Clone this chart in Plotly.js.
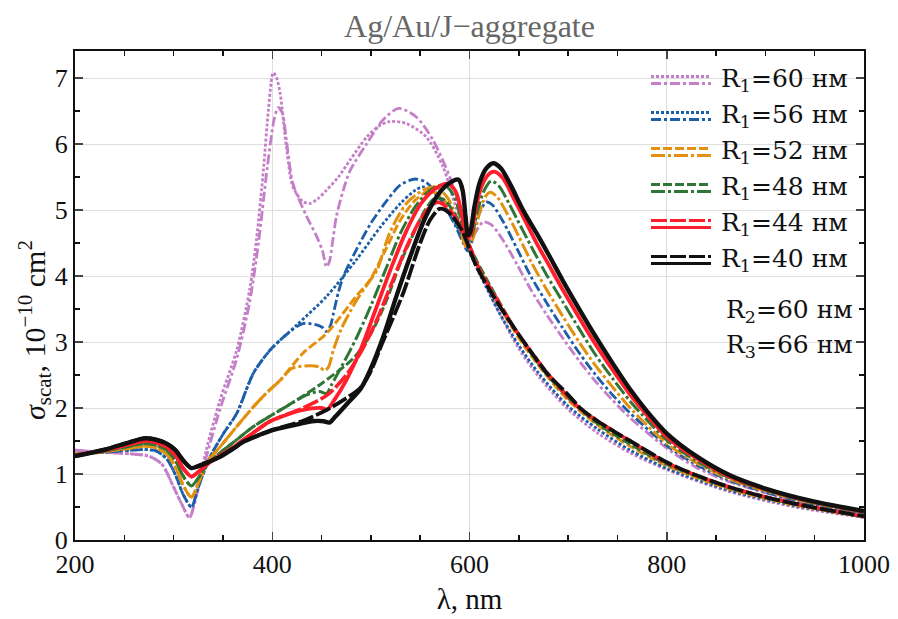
<!DOCTYPE html>
<html><head><meta charset="utf-8">
<script src="https://cdn.plot.ly/plotly-3.0.1.min.js"></script>
<style>html,body{margin:0;padding:0;background:#fff}#chart{width:898px;height:619px}</style>
</head><body><div id="chart"></div>
<script>
// ---------------- DATA ----------------
const radii = [60, 56, 52, 48, 44, 40];
const colors = ['#c57fc8', '#1d5ea8', '#e3900e', '#2f7636', '#ff1e2c', '#111111'];
const xTicks = [200, 400, 600, 800, 1000];
const yTicks = [0, 1, 2, 3, 4, 5, 6, 7];

// R1 = 60 nm
const x60a = [200,220,240,260,275,288,300,309,316,324,333,347,364,377,384,391,396,401,404,408,414,421,431,438,446,455,467,479,496,508,519,536,556,573,585,598,612,630,650,670,700,730,763,801,864,930,1000];
const y60a = [1.36,1.34,1.32,1.3,1.27,1.15,0.8,0.52,0.34,0.75,1.36,2.12,2.88,3.79,4.55,5.6,6.5,7.08,7.02,6.77,6.0,5.35,5.13,5.1,5.17,5.3,5.5,5.76,6.11,6.27,6.34,6.31,6.11,5.66,5.1,4.55,4.02,3.45,2.9,2.48,1.98,1.62,1.32,1.06,0.73,0.5,0.34];
const x60b = [200,220,240,260,275,288,300,309,316,324,333,347,364,377,386,395,402,406,410,414,421,435,445,451,455,458,461,465,472,479,496,512,528,546,563,580,590,595,599,606,614,622,635,648,662,678,695,712,728,745,763,801,830,864,930,1000];
const y60b = [1.36,1.34,1.32,1.3,1.27,1.15,0.8,0.52,0.34,0.72,1.25,1.98,2.75,3.6,4.5,5.65,6.38,6.55,6.48,6.1,5.4,4.9,4.6,4.38,4.14,4.22,4.5,4.9,5.3,5.6,6.01,6.36,6.54,6.41,6.06,5.5,5.05,4.78,4.52,4.66,4.82,4.78,4.52,4.18,3.8,3.42,3.05,2.7,2.4,2.12,1.85,1.38,1.1,0.88,0.6,0.41];

// R1 = 56 nm
const x56a = [200,230,255,270,282,293,302,310,318,325,337,350,364,381,398,425,455,485,510,530,545,553,565,580,598,612,630,650,670,700,730,763,801,864,930,1000];
const y56a = [1.3,1.33,1.36,1.37,1.35,1.23,0.98,0.68,0.5,0.8,1.26,1.6,1.92,2.53,2.88,3.26,3.69,4.24,4.75,5.1,5.3,5.35,5.25,4.95,4.42,3.98,3.45,2.95,2.53,2.03,1.68,1.36,1.08,0.75,0.52,0.35];
const x56b = [200,230,255,270,282,293,302,310,318,325,337,350,364,381,398,415,431,445,451,455,459,462,467,472,485,500,515,530,545,556,570,585,593,598,603,610,617,623,635,648,662,678,695,712,728,745,763,801,830,864,930,1000];
const y56b = [1.3,1.33,1.36,1.37,1.35,1.23,0.98,0.68,0.5,0.8,1.26,1.6,1.92,2.53,2.88,3.12,3.28,3.26,3.22,3.16,3.25,3.43,3.75,3.99,4.39,4.8,5.12,5.38,5.47,5.42,5.18,4.78,4.52,4.38,4.55,4.95,5.12,5.08,4.8,4.42,4.0,3.6,3.2,2.82,2.5,2.2,1.92,1.42,1.14,0.9,0.6,0.41];

// R1 = 52 nm
const x52a = [200,230,255,270,282,293,302,310,318,325,335,347,364,381,395,408,431,455,485,499,515,530,545,558,570,585,600,615,635,655,675,700,730,763,801,864,930,1000];
const y52a = [1.3,1.34,1.39,1.42,1.4,1.3,1.1,0.82,0.65,0.86,1.2,1.41,1.72,2.02,2.24,2.42,2.83,3.13,3.69,3.94,4.4,4.85,5.15,5.28,5.22,4.9,4.42,3.98,3.42,2.95,2.55,2.12,1.74,1.42,1.12,0.77,0.53,0.35];
const x52b = [200,230,255,270,282,293,302,310,318,325,335,347,364,381,395,408,420,438,448,453,457,462,470,485,500,506,519,536,553,566,578,588,597,603,610,616,621,628,638,650,663,678,695,712,728,745,763,801,830,864,930,1000];
const y52b = [1.3,1.34,1.39,1.42,1.4,1.3,1.1,0.82,0.65,0.86,1.2,1.41,1.72,2.02,2.24,2.42,2.6,2.64,2.62,2.57,2.62,2.88,3.2,3.62,3.95,4.08,4.65,5.1,5.3,5.35,5.18,4.85,4.43,4.55,4.95,5.2,5.27,5.2,4.95,4.6,4.2,3.8,3.38,2.98,2.64,2.32,2.0,1.45,1.17,0.92,0.62,0.42];

// R1 = 48 nm
const x48a = [200,230,255,270,282,293,302,310,318,325,335,347,364,381,398,414,448,482,499,515,530,545,555,565,575,590,605,620,640,660,680,705,730,763,801,864,930,1000];
const y48a = [1.29,1.35,1.42,1.46,1.44,1.36,1.2,0.96,0.82,0.94,1.16,1.32,1.52,1.72,1.88,2.02,2.35,2.75,3.1,3.6,4.2,4.7,5.0,5.18,5.15,4.8,4.3,3.88,3.35,2.88,2.48,2.08,1.76,1.45,1.14,0.79,0.54,0.35];
const x48b = [200,230,255,270,282,293,302,310,318,325,335,347,364,381,398,414,435,448,455,460,470,485,500,515,530,545,560,574,584,591,597,602,608,615,622,630,640,652,665,678,695,712,728,745,763,780,801,830,864,930,1000];
const y48b = [1.29,1.35,1.42,1.46,1.44,1.36,1.2,0.96,0.82,0.94,1.16,1.32,1.52,1.72,1.88,2.02,2.2,2.25,2.22,2.35,2.62,3.05,3.55,4.1,4.65,5.05,5.3,5.38,5.22,4.88,4.52,4.6,4.98,5.3,5.44,5.36,5.1,4.75,4.38,4.02,3.6,3.18,2.8,2.45,2.1,1.82,1.5,1.2,0.94,0.63,0.42];

// R1 = 44 nm
const x44a = [200,230,255,270,282,293,302,310,318,325,335,347,360,371,385,398,431,456,475,490,505,520,535,550,560,568,580,595,610,625,645,665,685,713,746,763,801,864,930,1000];
const y44a = [1.28,1.36,1.45,1.5,1.48,1.41,1.28,1.08,0.96,1.03,1.16,1.28,1.4,1.52,1.67,1.8,2.0,2.2,2.5,2.85,3.3,3.85,4.4,4.85,5.05,5.12,5.0,4.62,4.1,3.72,3.22,2.8,2.42,1.98,1.65,1.5,1.16,0.8,0.55,0.36];
const x44b = [200,230,255,270,282,293,302,310,318,325,335,347,360,371,385,398,431,450,456,462,475,490,505,520,535,550,565,578,586,592,597,601,606,612,620,626,634,644,656,668,680,695,712,728,745,763,780,801,830,864,930,1000];
const y44b = [1.28,1.36,1.45,1.5,1.48,1.41,1.28,1.08,0.96,1.03,1.16,1.28,1.4,1.52,1.67,1.8,1.97,2.0,1.98,2.1,2.42,2.9,3.5,4.1,4.65,5.08,5.32,5.4,5.28,4.95,4.57,4.62,5.0,5.35,5.55,5.58,5.48,5.2,4.85,4.5,4.18,3.78,3.35,2.96,2.58,2.2,1.89,1.55,1.24,0.96,0.64,0.43];

// R1 = 40 nm
const x40a = [200,230,255,270,282,293,302,310,318,325,335,347,360,371,385,401,430,455,472,489,499,512,522,533,550,560,570,580,592,606,620,640,660,679,700,713,730,746,763,801,830,864,900,950,1000];
const y40a = [1.27,1.37,1.48,1.54,1.52,1.46,1.36,1.2,1.09,1.12,1.18,1.26,1.38,1.49,1.58,1.67,1.8,1.97,2.12,2.3,2.53,3.0,3.35,3.75,4.5,4.85,5.02,4.95,4.7,4.18,3.8,3.33,2.9,2.52,2.2,1.99,1.8,1.65,1.5,1.17,0.98,0.8,0.65,0.49,0.36];
const x40b = [200,230,255,270,282,293,302,310,318,325,335,347,360,371,385,401,428,440,452,458,464,475,490,500,513,526,540,555,570,582,589,593,596,598.5,601,605,610,617,624,632,642,655,668,680,695,712,728,745,763,780,801,830,864,900,950,1000];
const y40b = [1.27,1.37,1.48,1.54,1.52,1.46,1.36,1.2,1.09,1.12,1.18,1.26,1.38,1.49,1.58,1.67,1.76,1.8,1.8,1.78,1.87,2.05,2.3,2.6,3.1,3.7,4.3,4.88,5.27,5.43,5.46,5.3,4.9,4.62,4.68,5.05,5.4,5.63,5.71,5.63,5.37,4.98,4.65,4.33,3.92,3.48,3.08,2.68,2.28,1.95,1.6,1.27,0.98,0.78,0.58,0.44];

const seriesA = [[x60a,y60a],[x56a,y56a],[x52a,y52a],[x48a,y48a],[x44a,y44a],[x40a,y40a]];
const seriesB = [[x60b,y60b],[x56b,y56b],[x52b,y52b],[x48b,y48b],[x44b,y44b],[x40b,y40b]];

// ---------------- STYLE ----------------
const dashA = ['3px,2px','3px,2px','9px,3px','9px,3px','16px,3px','16px,3px'];
const dashB = ['10px,3px,3px,3px','10px,3px,3px,3px','14px,3px,3px,3px','14px,3px,3px,3px','solid','solid'];
const widthA = [2.8,2.8,3,3,3.6,3.8];
const widthB = [2.8,2.8,3,3,3.8,4.4];

const traces = [];
for (let i = 0; i < radii.length; i++) {
  traces.push({x: seriesA[i][0], y: seriesA[i][1], type:'scatter', mode:'lines', showlegend:false,
    line:{color:colors[i], width:widthA[i], dash:dashA[i], shape:'spline', smoothing:0.8}, hoverinfo:'skip'});
  traces.push({x: seriesB[i][0], y: seriesB[i][1], type:'scatter', mode:'lines', showlegend:false,
    line:{color:colors[i], width:widthB[i], dash:dashB[i], shape:'spline', smoothing:0.8}, hoverinfo:'skip'});
}

// custom legend (layout decorations in paper coordinates)
const L = 75, R = 864, T = 51, B = 540;
const px = v => (v - L) / (R - L);
const py = v => (B - v) / (B - T);
const shapes = [], annotations = [];
const legFont = {family:'DejaVu Serif, serif', size:25, color:'#111'};
for (let i = 0; i < radii.length; i++) {
  const yc = 80 + i * 36;
  shapes.push({type:'line', xref:'paper', yref:'paper', x0:px(651), x1:px(711), y0:py(yc-3.5), y1:py(yc-3.5),
    line:{color:colors[i], width:3.2, dash:dashA[i]}});
  shapes.push({type:'line', xref:'paper', yref:'paper', x0:px(651), x1:px(711), y0:py(yc+3.5), y1:py(yc+3.5),
    line:{color:colors[i], width:3.2, dash:dashB[i]}});
  annotations.push({xref:'paper', yref:'paper', x:px(719), y:py(yc), xanchor:'left', yanchor:'middle',
    showarrow:false, text:'R<sub>1</sub>=' + radii[i] + ' нм', font:legFont});
}
annotations.push({xref:'paper', yref:'paper', x:px(855), y:py(311), xanchor:'right', yanchor:'middle',
  showarrow:false, text:'R<sub>2</sub>=60 нм', font:legFont});
annotations.push({xref:'paper', yref:'paper', x:px(855), y:py(346), xanchor:'right', yanchor:'middle',
  showarrow:false, text:'R<sub>3</sub>=66 нм', font:legFont});

const serif = 'Liberation Serif, Times New Roman, serif';
// y-axis title placed as a rotated annotation (same position as in the reference)
annotations.push({xref:'paper', yref:'paper', x:px(34), y:py(330), xanchor:'center', yanchor:'middle', textangle:-90,
  showarrow:false, text:'<i>σ</i><sub>scat</sub>, 10<sup>−10</sup> cm<sup>2</sup>', font:{family:serif, size:30, color:'#111'}});

const layout = {
  width: 898, height: 619,
  margin: {l: L, r: 898 - R, t: T, b: 619 - B},
  paper_bgcolor:'#fff', plot_bgcolor:'#fff',
  title: {text:'Ag/Au/J−aggregate', font:{family:serif, size:32, color:'#666'}, x:0.5, xref:'paper', y:1-26/619, yanchor:'middle'},
  xaxis: {range:[200,1000], tickvals:xTicks, ticktext:xTicks.map(String), ticks:'inside', ticklen:8, tickwidth:1.5,
    showline:true, linewidth:2, linecolor:'#111', mirror:'ticks', showgrid:true, gridcolor:'#dedede', gridwidth:1,
    zeroline:false, tickfont:{family:serif, size:26, color:'#111'},
    minor:{dtick:50, ticks:'inside', ticklen:5, tickcolor:'#111', showgrid:false},
    title:{text:'λ, nm', font:{family:serif, size:29, color:'#111'}, standoff:10}},
  yaxis: {range:[0,7.41], tickvals:yTicks, ticktext:yTicks.map(String), ticks:'inside', ticklen:8, tickwidth:1.5,
    showline:true, linewidth:2, linecolor:'#111', mirror:'ticks', showgrid:true, gridcolor:'#dedede', gridwidth:1,
    zeroline:false, tickfont:{family:serif, size:26, color:'#111'},
    minor:{dtick:0.5, ticks:'inside', ticklen:5, tickcolor:'#111', showgrid:false}},
  shapes: shapes,
  annotations: annotations,
  showlegend:false
};
Plotly.newPlot('chart', traces, layout, {staticPlot:true, displayModeBar:false});
</script>
</body></html>
